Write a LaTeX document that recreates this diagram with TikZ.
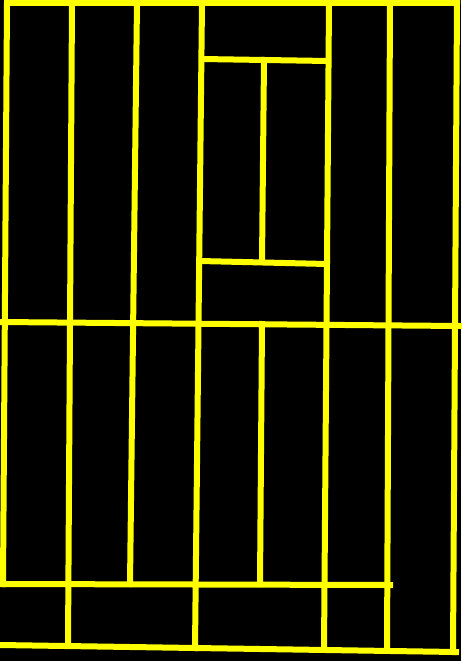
\documentclass[tikz,border=0pt]{standalone}
\usepackage{tikz}
\definecolor{planYellow}{HTML}{FFFF00}
\definecolor{planBlack}{HTML}{000000}

\begin{document}
\begin{tikzpicture}[
        x=1pt, y=-1pt,
        wall/.style={draw=planYellow, line width=6pt, line cap=rect}
      ]

      % --- FONDO ---
      \fill[planBlack] (0,0) rectangle (461,661);
      \useasboundingbox (0,0) rectangle (461,661);

      % --- MARCO EXTERIOR ---
      \draw[wall] (3,584) -- (7,3) -- (457,3) -- (453,652);
      \draw[wall] (0,645) -- (456,652);

      % --- DIVISIONES HORIZONTALES ---
      \draw[wall] (0,322) -- (460,326);
      \draw[wall] (0,584) -- (390,585);

      % --- DIVISIONES VERTICALES ---
      \draw[wall] (72,3) -- (68,645);
      \draw[wall] (137,3) -- (130,584);
      \draw[wall] (202,3) -- (195,648);
      \draw[wall] (329,3) -- (324,649);
      \draw[wall] (390,3) -- (387,650);
      \draw[wall] (262,324) -- (260,584);

      % --- BLOQUE CENTRAL SUPERIOR ---
      \draw[wall] (202,59) -- (328,61);
      \draw[wall] (200,261) -- (327,264);
      \draw[wall] (264,60) -- (262,262);

    \end{tikzpicture}
\end{document}
